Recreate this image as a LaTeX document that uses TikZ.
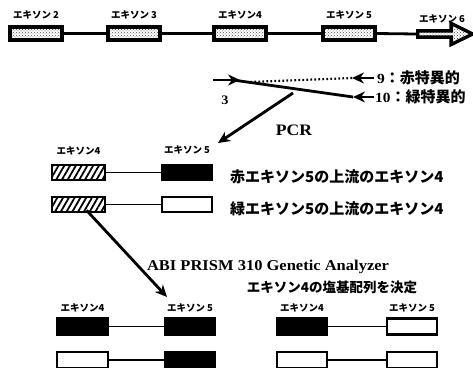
\documentclass[tikz,border=0pt]{standalone}
\usepackage{fontspec}
\newfontfamily\jp{Noto Sans CJK JP}
\newfontfamily\lat{Liberation Serif}[FakeStretch=1.1]
\usetikzlibrary{arrows.meta,positioning,shapes.arrows,patterns,patterns.meta}

\begin{document}
\begin{tikzpicture}[
  x=1pt, y=-1pt,
  >={Stealth[length=12pt,width=11pt]},
  exonlbl/.style={font=\jp\bfseries\fontsize{9.5}{10}\selectfont, inner sep=0pt},
  bigtxt/.style={font=\jp\bfseries\fontsize{15}{16}\selectfont, inner sep=0pt, anchor=west},
  serifbf/.style={font=\lat\bfseries\fontsize{13}{14}\selectfont, inner sep=0pt},
  dotbox/.style={draw, line width=3.4pt, fill=white, pattern=crosshatch dots,
    pattern color=black!70, minimum width=52pt, minimum height=13pt, inner sep=0pt},
  hatchbox/.style={draw, line width=2.6pt,
    pattern={Lines[angle=60,distance=5pt,line width=1.8pt]},
    minimum width=53pt, minimum height=15pt, inner sep=0pt},
  solidbox/.style={draw, line width=2.6pt, fill=black,
    minimum width=50pt, minimum height=16pt, inner sep=0pt},
  openbox/.style={draw, line width=2.6pt, fill=white,
    minimum width=50pt, minimum height=16pt, inner sep=0pt},
  intron/.style={line width=1.9pt},
  fatarrow/.style={->, line width=2.8pt}
]
  \useasboundingbox (0,0) rectangle (473,367);

  % Gene: exons 2-6
  \node[dotbox] (ex2) at (36,33.5) {};
  \node[dotbox] (ex3) at (134,33.5) {};
  \node[dotbox] (ex4) at (240,33.5) {};
  \node[dotbox] (ex5) at (349,33.5) {};
  \node[draw, line width=3.4pt, fill=white, pattern=crosshatch dots, pattern color=black!70,
    single arrow, single arrow head extend=4pt, single arrow tip angle=52,
    minimum width=21pt, minimum height=55pt, inner sep=0pt] (ex6) at (442,34) {};
  \foreach \a/\b in {ex2/ex3,ex3/ex4,ex4/ex5}
    \draw[line width=2.8pt] (\a.east) -- (\b.west);
  \draw[line width=2.8pt] (ex5.east) -- (ex6.tail);
  \node[exonlbl, above=6pt of ex2] {エキソン 2};
  \node[exonlbl, above=6pt of ex3] {エキソン 3};
  \node[exonlbl, above=6pt of ex4] {エキソン4};
  \node[exonlbl, above=6pt of ex5] {エキソン 5};
  \node[exonlbl, above=6pt of ex6] {エキソン 6};

  % Primers
  \coordinate (fwd) at (213,80);
  \draw[fatarrow] (fwd) -- ++(27,0) coordinate (fwdtip);
  \node[serifbf] (fwdlbl) at (225,100) {3};
  \node[bigtxt] (p9) at (377,78) {{\lat\fontsize{14}{15}\selectfont 9}：赤特異的};
  \node[bigtxt] (p10) at (375,97) {{\lat\fontsize{14}{15}\selectfont 10}：緑特異的};
  \draw[fatarrow] ([xshift=-3pt]p9.west) -- ++(-22,0) coordinate (p9tip);
  \draw[line width=2.2pt, dash pattern=on 1.6pt off 2.4pt] (p9tip) -- ([xshift=10pt,yshift=-2pt]fwdtip);
  \draw[fatarrow] ([xshift=-1pt]p10.west) -- ++(-21,0) coordinate (p10tip);
  \draw[line width=2.8pt] (p10tip) -- ([xshift=-7pt]fwdtip);

  % PCR
  \coordinate (pcrstart) at (293,93);
  \coordinate (pcrend) at (218,143);
  \draw[fatarrow] (pcrstart) -- (pcrend);
  \node[serifbf, font=\lat\bfseries\fontsize{16}{17}\selectfont] (pcr) at (294,130) {PCR};

  % PCR products
  \node[hatchbox] (m4a) at (78.5,172.5) {};
  \node[solidbox, minimum height=15pt] (m5a) at (187,172.5) {};
  \node[hatchbox] (m4b) at (78.5,204.5) {};
  \node[openbox, minimum height=15pt] (m5b) at (187,204.5) {};
  \draw[intron] (m4a.east) -- (m5a.west);
  \draw[intron] (m4b.east) -- (m5b.west);
  \node[exonlbl, above=9pt of m4a] {エキソン4};
  \node[exonlbl, above=9pt of m5a] {エキソン 5};
  \node[bigtxt] (redtxt) at (230,177) {赤エキソン5の上流のエキソン4};
  \node[bigtxt] (grntxt) at (230,209) {緑エキソン5の上流のエキソン4};

  % Sequencing
  \coordinate (seqend) at (167,297);
  \draw[fatarrow] ([xshift=8pt,yshift=3pt]m4b.south) -- (seqend);
  \node[serifbf, font=\lat\bfseries\fontsize{15}{16}\selectfont] (abi) at (268,267) {ABI PRISM 310 Genetic Analyzer};
  \node[font=\jp\bfseries\fontsize{13.5}{14}\selectfont, inner sep=0pt] (seqtxt) at (332,287) {エキソン4の塩基配列を決定};

  % Results
  \node[solidbox, minimum width=51pt] (b4a) at (82.5,326.5) {};
  \node[solidbox] (b5a) at (190,326.5) {};
  \node[openbox, minimum width=51pt] (b4b) at (82.5,360) {};
  \node[solidbox] (b5b) at (190,360) {};
  \node[solidbox] (c4a) at (302,326.5) {};
  \node[openbox] (c5a) at (412,326.5) {};
  \node[openbox] (c4b) at (302,360) {};
  \node[openbox] (c5b) at (412,360) {};
  \foreach \a/\b in {b4a/b5a,b4b/b5b,c4a/c5a,c4b/c5b}
    \draw[intron] (\a.east) -- (\b.west);
  \node[exonlbl, above=5pt of b4a] {エキソン4};
  \node[exonlbl, above=5pt of b5a] {エキソン 5};
  \node[exonlbl, above=5pt of c4a] {エキソン4};
  \node[exonlbl, above=5pt of c5a] {エキソン 5};

\end{tikzpicture}
\end{document}
